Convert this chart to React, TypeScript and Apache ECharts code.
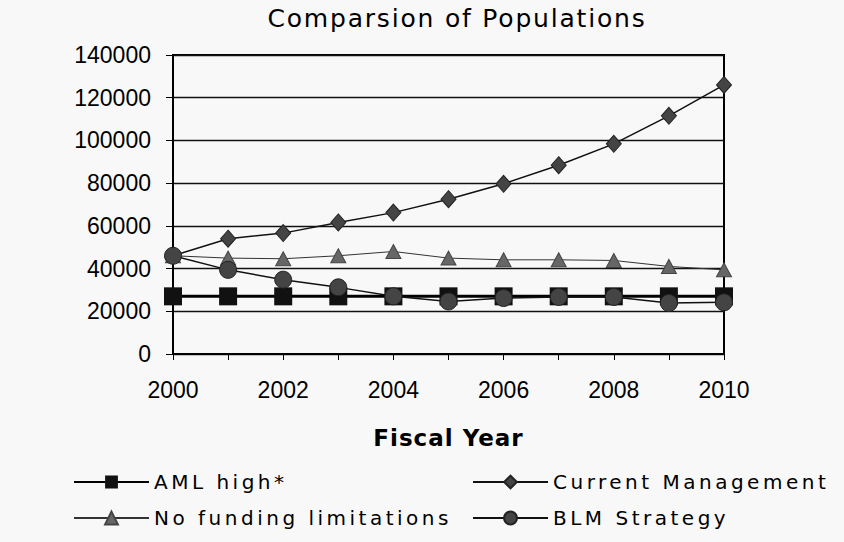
import React, { useEffect, useRef } from "react";
import * as echarts from "echarts";

const years = ["2000", "2001", "2002", "2003", "2004", "2005", "2006", "2007", "2008", "2009", "2010"];
const amlHigh = [27000, 27000, 27000, 27000, 27000, 27000, 27000, 27000, 27000, 27000, 27000];
const currentMgmt = [46000, 54000, 56600, 61600, 66200, 72500, 79700, 88400, 98400, 111500, 126000];
const noFunding = [46000, 44900, 44600, 46000, 48000, 44900, 44100, 44100, 43800, 41000, 39400];
const blmStrategy = [46000, 39400, 34800, 31200, 27000, 24600, 26200, 26700, 26700, 23900, 24200];

const TXT = "DejaVu Sans";
const NUM = "Liberation Sans";

export default function App() {
  const ref = useRef<HTMLDivElement>(null);
  useEffect(() => {
    if (!ref.current) return;
    const chart = echarts.init(ref.current, null, { renderer: "svg" });
    const legendText = { fontFamily: TXT, fontSize: 20, color: "#000" };
    const legendBase = { itemWidth: 75, itemHeight: 16, padding: 0, textStyle: legendText };
    chart.setOption({
      animation: false,
      backgroundColor: "#f8f8f8",
      title: {
        text: "Comparsion of Populations",
        left: 457,
        top: 6,
        padding: 0,
        textAlign: "center",
        textStyle: { fontFamily: TXT, fontSize: 25, fontWeight: "normal", color: "#000" },
      },
      legend: [
        { ...legendBase, data: ["AML high*"], left: 73, top: 472 },
        { ...legendBase, data: ["Current Management"], left: 472, top: 472 },
        { ...legendBase, data: ["No funding limitations"], left: 73, top: 508 },
        { ...legendBase, data: ["BLM Strategy"], left: 472, top: 508 },
      ],
      grid: {
        left: 173,
        right: 120,
        top: 55,
        bottom: 188,
        show: true,
        borderColor: "#000",
        borderWidth: 2,
        backgroundColor: "transparent",
      },
      xAxis: {
        type: "category",
        data: years,
        boundaryGap: false,
        name: "Fiscal Year",
        nameLocation: "middle",
        nameGap: 72,
        nameTextStyle: { fontFamily: TXT, fontSize: 23, fontWeight: "bold", color: "#000" },
        axisLine: { lineStyle: { color: "#000", width: 2 } },
        axisTick: { show: true, interval: 0, length: 6, lineStyle: { color: "#000", width: 1 } },
        axisLabel: { interval: 1, margin: 24, fontFamily: NUM, fontSize: 23, color: "#000" },
      },
      yAxis: {
        type: "value",
        min: 0,
        max: 140000,
        interval: 20000,
        axisLine: { show: true, lineStyle: { color: "#000", width: 2 } },
        axisTick: { show: true, length: 7, lineStyle: { color: "#000", width: 1 } },
        axisLabel: {
          margin: 22,
          fontFamily: NUM,
          fontSize: 23,
          color: "#000",
          formatter: (v: number) => String(v),
        },
        splitLine: { show: true, lineStyle: { color: "#111", width: 1.3 } },
      },
      series: [
        {
          name: "AML high*",
          type: "line",
          data: amlHigh,
          symbol: "rect",
          symbolSize: 18,
          itemStyle: { color: "#111" },
          lineStyle: { color: "#000", width: 3 },
        },
        {
          name: "Current Management",
          type: "line",
          data: currentMgmt,
          symbol: "diamond",
          symbolSize: [15, 17],
          itemStyle: { color: "#444", borderColor: "#222", borderWidth: 1 },
          lineStyle: { color: "#111", width: 1.5 },
        },
        {
          name: "No funding limitations",
          type: "line",
          data: noFunding,
          symbol: "triangle",
          symbolSize: [15, 14],
          itemStyle: { color: "#666", borderColor: "#444", borderWidth: 1 },
          lineStyle: { color: "#333", width: 1 },
        },
        {
          name: "BLM Strategy",
          type: "line",
          data: blmStrategy,
          symbol: "circle",
          symbolSize: 17,
          itemStyle: { color: "#444", borderColor: "#222", borderWidth: 1 },
          lineStyle: { color: "#111", width: 1.5 },
        },
      ],
    });
    return () => chart.dispose();
  }, []);
  return (
    <>
      <style>{`body{margin:0}
#chartbox text[style*="DejaVu"]{letter-spacing:3.5px}
#chartbox text[style*="DejaVu"][style*="25px"]{letter-spacing:1.8px}
#chartbox text[style*="DejaVu"][style*="bold"]{letter-spacing:1px}`}</style>
      <div id="chartbox" ref={ref} style={{ position: "absolute", left: 0, top: 0, width: 844, height: 542 }} />
    </>
  );
}
